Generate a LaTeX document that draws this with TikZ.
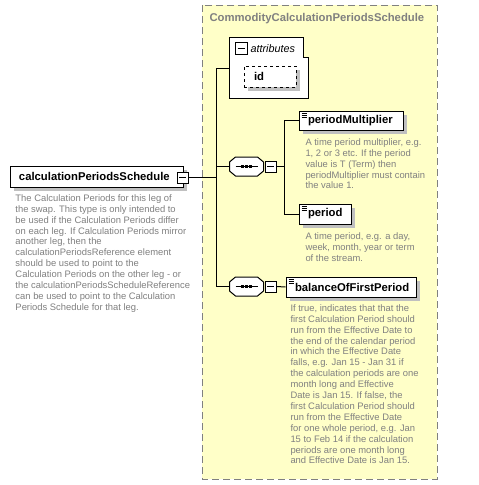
\documentclass[tikz,border=0pt]{standalone}
\usepackage{fontspec}
\setmainfont{Liberation Sans}
\usetikzlibrary{shadows}
\definecolor{bgyellow}{RGB}{255,255,200}
\definecolor{descgray}{RGB}{128,128,128}
\definecolor{shadowgray}{RGB}{192,192,192}
\newcommand\descfont{\fontsize{9.4}{10.9}\selectfont}
\newcommand\namefont{\fontsize{11.3}{13}\selectfont\bfseries}
\tikzset{
  shad/.style={drop shadow={shadow xshift=4pt,shadow yshift=-4pt,fill=shadowgray,opacity=1}},
  elembox/.style={draw=black,fill=white,shad,inner xsep=9pt,inner ysep=0pt,align=left,font=\namefont},
  minusbox/.style={draw=black,fill=white,minimum size=11pt,inner sep=0pt},
  seqbox/.style={minimum width=33pt,minimum height=18pt,inner sep=0pt},
  desc/.style={anchor=north west,inner sep=0pt,align=left,font=\descfont,text=descgray},
}
\newcommand\minusmark[1]{\draw ([xshift=-3.5pt]#1.center) -- ([xshift=3.5pt]#1.center);}
\newcommand\elemicon[1]{\foreach \d in {2.5,4.5,6.5}{\draw[line width=0.8pt] ([xshift=3pt,yshift=-\d pt]#1.north west) -- ([xshift=8pt,yshift=-\d pt]#1.north west);}}
\newcommand\octagon[2]{%
  \path[#2] ([xshift=6pt]#1.north west) -- ([xshift=-6pt]#1.north east) -- ([yshift=-5pt]#1.north east)
   -- ([yshift=5pt]#1.south east) -- ([xshift=-6pt]#1.south east) -- ([xshift=6pt]#1.south west)
   -- ([yshift=5pt]#1.south west) -- ([yshift=-5pt]#1.north west) -- cycle;}
\newcommand\seqicon[1]{%
  \begin{scope}[shift={(3pt,3pt)}]\octagon{#1}{fill=shadowgray}\end{scope}
  \octagon{#1}{draw=black,fill=white}
  \draw ([xshift=-11pt]#1.center) -- ([xshift=11pt]#1.center);
  \foreach \o in {-4,0,4}{\fill ([xshift=\o pt-1.3pt,yshift=-1.3pt]#1.center) rectangle ([xshift=\o pt+1.3pt,yshift=1.3pt]#1.center);}}
\begin{document}
\begin{tikzpicture}[x=1pt,y=-1pt,line width=1pt]
\useasboundingbox (0,0) rectangle (479,485);
\fill[white] (0,0) rectangle (479,485);
% complex type background
\draw[descgray,dash pattern=on 7pt off 4pt,fill=bgyellow] (202,5) rectangle (437,479);
\node[anchor=west,inner sep=0pt,font=\namefont,text=descgray] (title) at (209,19) {CommodityCalculationPeriodsSchedule};

% main element
\node[elembox,text width=155pt,minimum height=21pt] (main) at (96.5,176.5) {calculationPeriodsSchedule};
\node[minusbox] (mm) at (182.5,177.5) {};
\minusmark{mm}
\node[desc] (maindesc) at (15,194) {The Calculation Periods for this leg of\\the swap. This type is only intended to\\be used if the Calculation Periods differ\\on each leg. If Calculation Periods mirror\\another leg, then the\\calculationPeriodsReference element\\should be used to point to the\\Calculation Periods on the other leg - or\\the calculationPeriodsScheduleReference\\can be used to point to the Calculation\\Periods Schedule for that leg.};

\coordinate (j1) at (216,177.5);

% attributes
\node[minimum width=78pt,minimum height=60pt,inner sep=0pt] (attrs) at (269,68) {};
\draw[fill=white] (attrs.south west) -- (attrs.north west) -- ([xshift=-5pt]attrs.north east)
  -- ([xshift=-5pt,yshift=-20pt]attrs.north east) -- ([yshift=-20pt]attrs.north east) -- (attrs.south east) -- cycle;
\node[minusbox,minimum size=12pt] (am) at (241,48.5) {};
\minusmark{am}
\node[anchor=west,inner sep=0pt,font=\fontsize{10.8}{12}\selectfont\itshape] (attrlbl) at (250,48.5) {attributes};
\node[draw=black,dashed,fill=white,shad,minimum width=52pt,minimum height=21pt,inner xsep=10pt,inner ysep=0pt,text width=32pt,align=left,font=\namefont] (idbox) at (270,76.5) {id};

% sequence 1
\node[seqbox] (seq1) at (246.5,166.5) {};
\seqicon{seq1}
\node[minusbox] (sm1) at (270.5,166.5) {};
\minusmark{sm1}
\coordinate (j2) at (284,166.5);

\node[elembox,text width=86pt,minimum height=19pt] (pm) at (351,120.5) {periodMultiplier};
\elemicon{pm}
\node[desc] (pmdesc) at (305,138) {A time period multiplier, e.g.\\1, 2 or 3 etc. If the period\\value is T (Term) then\\periodMultiplier must contain\\the value 1.};

\node[elembox,text width=34pt,minimum height=20pt] (per) at (325,214) {period};
\elemicon{per}
\node[desc] (perdesc) at (305,232) {A time period, e.g. a day,\\week, month, year or term\\of the stream.};

% sequence 2
\node[seqbox] (seq2) at (246.5,286.5) {};
\seqicon{seq2}
\node[minusbox] (sm2) at (270.5,286.5) {};
\minusmark{sm2}

\node[elembox,text width=112pt,minimum height=20pt] (bal) at (351,287) {balanceOfFirstPeriod};
\elemicon{bal}
\node[desc] (baldesc) at (290,304) {If true, indicates that that the\\first Calculation Period should\\run from the Effective Date to\\the end of the calendar period\\in which the Effective Date\\falls, e.g. Jan 15 - Jan 31 if\\the calculation periods are one\\month long and Effective\\Date is Jan 15. If false, the\\first Calculation Period should\\run from the Effective Date\\for one whole period, e.g. Jan\\15 to Feb 14 if the calculation\\periods are one month long\\and Effective Date is Jan 15.};

% connectors
\draw (mm.east) -- (j1);
\draw (attrs.west) -- (attrs.west -| j1) -- (seq2.west -| j1) -- (seq2.west);
\draw (j1 |- seq1.west) -- (seq1.west);
\draw (sm1.east) -- (j2);
\draw (pm.west -| j2) -- (per.west -| j2);
\draw (pm.west -| j2) -- (pm.west);
\draw (per.west -| j2) -- (per.west);
\draw (sm2.east) -- (bal.west);
\end{tikzpicture}
\end{document}
